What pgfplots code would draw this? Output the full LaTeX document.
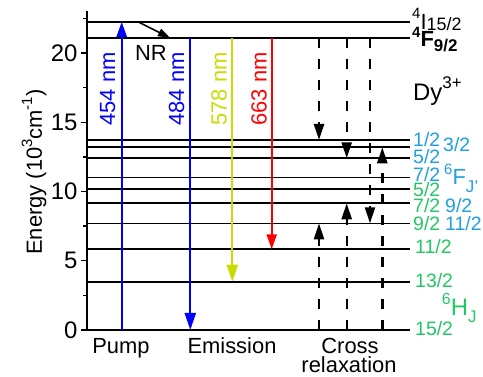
\documentclass[border=0pt]{standalone}
\usepackage{fontspec}
\setmainfont{Liberation Sans}
\usepackage{pgfplots}
\pgfplotsset{compat=1.18}
\usetikzlibrary{arrows.meta}
\definecolor{lblue}{RGB}{30,160,225}
\definecolor{lgreen}{RGB}{35,200,100}
\definecolor{ygreen}{RGB}{200,220,0}
\newcommand{\fs}[1]{\fontsize{#1}{#1}\selectfont}
\newcommand{\up}[3]{\raisebox{#1}{\fs{#2}#3}}
\begin{document}
\begin{tikzpicture}
\path[use as bounding box] (-87bp,-47bp) rectangle (396bp,330bp);
\begin{axis}[
  at={(0,0)}, anchor=south west, scale only axis,
  width=323bp, height=318.55bp,
  xmin=87, xmax=410, ymin=0, ymax=23,
  axis x line=none, axis y line=left,
  y axis line style={-, line width=1.6bp},
  ytick={0,5,10,15,20}, minor ytick={2.5,7.5,12.5,17.5,22.5},
  tick align=outside, major tick length=6bp, minor tick length=3.5bp,
  every tick/.style={black, line width=1.3bp},
  yticklabel style={font=\fs{24}},
  /pgf/number format/assume math mode=true,
  clip=false,
]
% energy levels
\pgfplotsinvokeforeach{0,3.49,5.83,7.70,9.15,10.16,11.0,12.4,13.19,13.72,21.1,22.25}{
  \addplot[black, line width=1.7bp] coordinates {(87,#1) (410,#1)};
}
% pump and emissions
\addplot[blue, line width=2.2bp, -{Triangle[width=10bp,length=15bp]}] coordinates {(121.7,0) (121.7,22.25)};
\addplot[black, line width=1.5bp, -{Triangle[width=8bp,length=12bp]}] coordinates {(138,22.25) (170,21.1)};
\addplot[blue, line width=2.2bp, -{Triangle[width=11bp,length=17bp]}] coordinates {(190.3,21.1) (190.3,0)};
\addplot[ygreen, line width=2.2bp, -{Triangle[width=11bp,length=17bp]}] coordinates {(232.3,21.1) (232.3,3.49)};
\addplot[red, line width=2.2bp, -{Triangle[width=10bp,length=15bp]}] coordinates {(271.7,21.1) (271.7,5.83)};
% cross relaxation
\pgfplotsset{crx/.style={black, line width=2.4bp, dash pattern=on 10bp off 11bp, -{Triangle[width=10bp,length=16bp]}}}
\addplot[crx] coordinates {(319,21.1) (319,13.72)};
\addplot[crx] coordinates {(319,0) (319,7.70)};
\addplot[crx] coordinates {(346.7,21.1) (346.7,12.4)};
\addplot[crx] coordinates {(346.7,0) (346.7,9.15)};
\addplot[crx] coordinates {(370,21.1) (370,7.70)};
\addplot[crx] coordinates {(382.3,0) (382.3,13.19)};
% transition labels
\node[rotate=90, anchor=base, font=\fs{22}, text=blue, inner sep=0] at (axis cs:115,17.4) {454 nm};
\node[rotate=90, anchor=base, font=\fs{22}, text=blue, inner sep=0] at (axis cs:184,17.4) {484 nm};
\node[rotate=90, anchor=base, font=\fs{22}, text=ygreen, inner sep=0] at (axis cs:226.7,17.4) {578 nm};
\node[rotate=90, anchor=base, font=\fs{22}, text=red, inner sep=0] at (axis cs:266.7,17.4) {663 nm};
\node[anchor=base, font=\fs{22}, inner sep=0] at (axis cs:151,19.45) {NR};
% level labels
\node[anchor=base west, font=\fs{22}, inner sep=0] at (axis cs:412,21.73) {\up{0.5em}{15}{4}I\up{-0.06em}{18}{15/2}};
\node[anchor=base west, font=\fs{22}\bfseries, inner sep=0] at (axis cs:412,20.46) {\up{0.4em}{15}{4}F\up{-0.22em}{17}{9/2}};
\node[anchor=base west, font=\fs{24}, inner sep=0] at (axis cs:413,16.56) {Dy\up{0.5em}{17}{3+}};
\node[anchor=base west, font=\fs{19.5}, text=lblue, inner sep=0] at (axis cs:413,13.28) {1/2};
\node[anchor=base west, font=\fs{19.5}, text=lblue, inner sep=0] at (axis cs:443,12.87) {3/2};
\node[anchor=base west, font=\fs{19.5}, text=lblue, inner sep=0] at (axis cs:413,12.03) {5/2};
\node[anchor=base west, font=\fs{19.5}, text=lblue, inner sep=0] at (axis cs:413,10.71) {7/2};
\node[anchor=base west, font=\fs{22}, text=lblue, inner sep=0] at (axis cs:444,10.47) {\up{0.5em}{15}{6}F\up{-0.35em}{17}{J'}};
\node[anchor=base west, font=\fs{19.5}, text=lgreen, inner sep=0] at (axis cs:413,9.63) {5/2};
\node[anchor=base west, font=\fs{19.5}, text=lgreen, inner sep=0] at (axis cs:413,8.49) {7/2};
\node[anchor=base west, font=\fs{19.5}, text=lblue, inner sep=0] at (axis cs:445,8.49) {9/2};
\node[anchor=base west, font=\fs{19.5}, text=lgreen, inner sep=0] at (axis cs:413,7.22) {9/2};
\node[anchor=base west, font=\fs{19.5}, text=lblue, inner sep=0] at (axis cs:445,7.22) {11/2};
\node[anchor=base west, font=\fs{19.5}, text=lgreen, inner sep=0] at (axis cs:415,5.53) {11/2};
\node[anchor=base west, font=\fs{19.5}, text=lgreen, inner sep=0] at (axis cs:415,3.08) {13/2};
\node[anchor=base west, font=\fs{24}, text=lgreen, inner sep=0] at (axis cs:441.7,1.08) {\up{0.45em}{16}{6}H\up{-0.3em}{17}{J}};
\node[anchor=base west, font=\fs{19.5}, text=lgreen, inner sep=0] at (axis cs:415,-0.43) {15/2};
% category labels
\node[anchor=base, font=\fs{22}, inner sep=0] at (axis cs:121,-1.68) {Pump};
\node[anchor=base, font=\fs{22}, inner sep=0] at (axis cs:232,-1.68) {Emission};
\node[anchor=base, font=\fs{22}, inner sep=0] at (axis cs:350,-1.68) {Cross};
\node[anchor=base, font=\fs{22}, inner sep=0] at (axis cs:349,-3.1) {relaxation};
% axis title
\node[rotate=90, anchor=base, font=\fs{22}, inner sep=0] at (axis cs:42,11.4) {Energy (10\up{0.45em}{15}{3}cm\up{0.45em}{15}{-1})};
\end{axis}
\end{tikzpicture}
\end{document}
